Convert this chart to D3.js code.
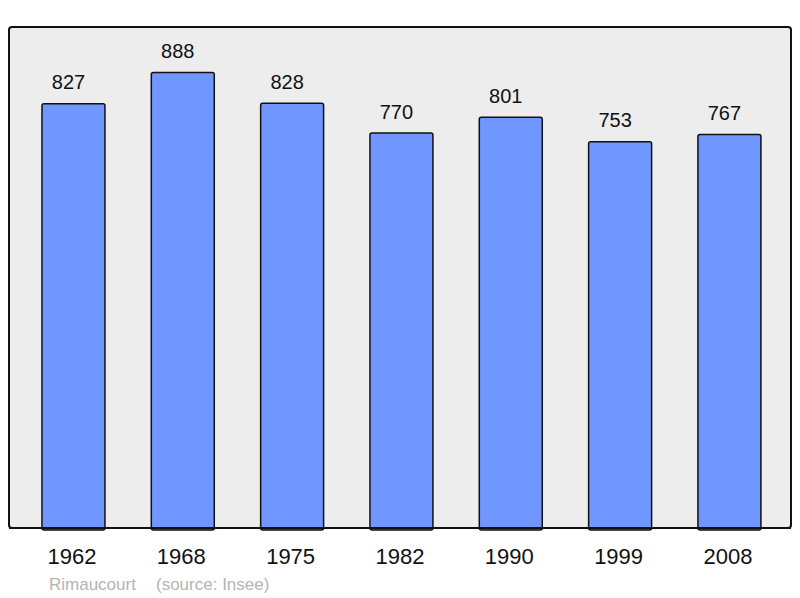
<!DOCTYPE html>
<html>
<head>
<meta charset="utf-8">
<script src="https://cdn.jsdelivr.net/npm/d3@7"></script>
<style>
  body { margin: 0; background: #fff; }
  text { font-family: "Liberation Sans", Arial, sans-serif; }
</style>
</head>
<body>
<div id="chart"></div>
<script>
const years = ['1962', '1968', '1975', '1982', '1990', '1999', '2008'];
const population = [827, 888, 828, 770, 801, 753, 767];
const town = 'Rimaucourt';
const source = '(source: Insee)';

const width = 800, height = 598;
const panel = { left: 9, top: 27, right: 791, bottom: 528 };

const svg = d3.select('#chart').append('svg')
    .attr('width', width)
    .attr('height', height);

svg.append('rect')
    .attr('x', panel.left)
    .attr('y', panel.top)
    .attr('width', panel.right - panel.left)
    .attr('height', panel.bottom - panel.top)
    .attr('rx', 3)
    .attr('fill', '#ededed')
    .attr('stroke', '#111')
    .attr('stroke-width', 2);

const x = d3.scaleBand()
    .domain(years)
    .range([18.8, 784.1])
    .paddingInner(0.424)
    .paddingOuter(0.212);

const y = d3.scaleLinear()
    .domain([0, d3.max(population) * 1.1])
    .range([panel.bottom, panel.top]);

const bars = svg.append('g');

bars.selectAll('rect')
    .data(years)
    .join('rect')
    .attr('x', d => x(d))
    .attr('y', (d, i) => y(population[i]))
    .attr('width', x.bandwidth())
    .attr('height', (d, i) => panel.bottom - y(population[i]) + 2)
    .attr('rx', 2)
    .attr('fill', '#7096ff')
    .attr('stroke', '#111')
    .attr('stroke-width', 1.5);

// redraw the panel's bottom edge over the bar ends
svg.append('line')
    .attr('x1', panel.left)
    .attr('x2', panel.right)
    .attr('y1', panel.bottom)
    .attr('y2', panel.bottom)
    .attr('stroke', '#111')
    .attr('stroke-width', 2);

bars.selectAll('text')
    .data(years)
    .join('text')
    .attr('x', d => x(d) + x.bandwidth() / 2 - 5)
    .attr('y', (d, i) => y(population[i]) - 14.5)
    .attr('text-anchor', 'middle')
    .style('font-size', '20px')
    .attr('fill', '#111')
    .text((d, i) => population[i]);

svg.append('g').selectAll('text')
    .data(years)
    .join('text')
    .attr('x', d => x(d) + x.bandwidth() / 2 - 1.5)
    .attr('y', 563.5)
    .attr('text-anchor', 'middle')
    .style('font-size', '22px')
    .attr('fill', '#111')
    .text(d => d);

svg.append('text')
    .attr('x', 49)
    .attr('y', 590)
    .style('font-size', '17px')
    .attr('fill', '#b4b4b4')
    .text(town);

svg.append('text')
    .attr('x', 156)
    .attr('y', 590)
    .style('font-size', '17px')
    .attr('fill', '#b4b4b4')
    .text(source);
</script>
</body>
</html>
